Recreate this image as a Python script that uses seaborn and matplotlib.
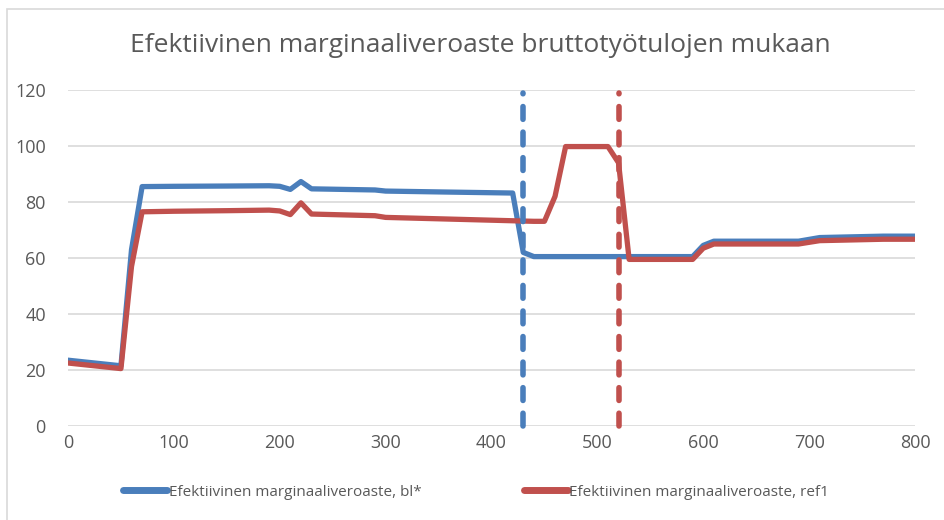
import seaborn as sns
import matplotlib.pyplot as plt
import pandas as pd
from matplotlib.patches import Rectangle

# data
x_bl = [0, 50, 60, 70, 100, 150, 190, 200, 210, 220, 230, 290, 300, 350, 420, 430, 440,
        590, 600, 610, 690, 710, 770, 800]
y_bl = [23.5, 21.5, 63, 85.5, 85.6, 85.7, 85.8, 85.6, 84.5, 87.3, 84.7, 84.3, 83.9, 83.6,
        83.2, 62, 60.5, 60.5, 64.5, 66, 66, 67.3, 67.8, 67.8]

x_ref = [0, 50, 60, 70, 100, 150, 190, 200, 210, 220, 230, 290, 300, 350, 440, 450, 460,
         470, 510, 520, 530, 590, 600, 610, 690, 710, 770, 800]
y_ref = [22.5, 20.5, 57, 76.5, 76.7, 76.9, 77.1, 76.8, 75.5, 79.7, 75.7, 75.1, 74.5, 74.0,
         73.1, 73.1, 82, 99.8, 99.8, 94, 59.5, 59.5, 63.5, 65, 65, 66.2, 66.7, 66.7]

vlines = [430, 520]
labels = ["Efektiivinen marginaaliveroaste, bl*", "Efektiivinen marginaaliveroaste, ref1"]
title = "Efektiivinen marginaaliveroaste bruttotyötulojen mukaan"

BLUE = "#4a7ebb"
RED = "#c0504d"
GREY = "#595959"

sns.set_style("white")
plt.rcParams['font.family'] = ['Open Sans', 'DejaVu Sans']

df = pd.concat([
    pd.DataFrame({"x": x_bl, "y": y_bl, "sarja": labels[0]}),
    pd.DataFrame({"x": x_ref, "y": y_ref, "sarja": labels[1]}),
])

fig = plt.figure(figsize=(9.45, 5.2), dpi=100)
ax = fig.add_axes([68 / 945, 1 - 426 / 520, 847 / 945, 336 / 520])

# chart border (only top/left visible in the crop)
fig.patches.append(Rectangle((7 / 945, -0.1), 1.2, 1 - 9 / 520 + 0.1, transform=fig.transFigure,
                             fill=False, edgecolor="#d9d9d9", linewidth=1.2))

for v in range(0, 121, 20):
    ax.axhline(v, color="#d9d9d9", linewidth=1.2, zorder=0)

sns.lineplot(data=df, x="x", y="y", hue="sarja", palette=[BLUE, RED], linewidth=3.8,
             ax=ax, legend=False, sort=False, estimator=None)

for xv, c in zip(vlines, (BLUE, RED)):
    ax.plot([xv, xv], [0, 119], color=c, linewidth=4, linestyle=(0, (2.3, 2.3)),
            dash_capstyle="round", clip_on=False)

ax.set_xlim(0, 800)
ax.set_ylim(0, 120)
ax.set_xticks(range(0, 801, 100))
ax.set_yticks(range(0, 121, 20))
ax.tick_params(axis="both", length=0, labelsize=13, labelcolor=GREY)
ax.tick_params(axis="y", pad=16)
ax.tick_params(axis="x", pad=6)
ax.set_xlabel("")
ax.set_ylabel("")
sns.despine(ax=ax, left=True, bottom=True, top=True, right=True)

fig.text(480 / 945, 1 - 45 / 520, title, ha="center", va="center", fontsize=19, color=GREY)

handles = [plt.Line2D([], [], color=c, linewidth=5, solid_capstyle="round") for c in (BLUE, RED)]
fig.legend(handles, labels, loc="center", bbox_to_anchor=(476 / 945, 1 - 492 / 520), ncol=2,
           frameon=False, fontsize=11, labelcolor=GREY, handlelength=2.9, handletextpad=0.1,
           columnspacing=6.7)

fig.savefig("out.png", dpi=100)
